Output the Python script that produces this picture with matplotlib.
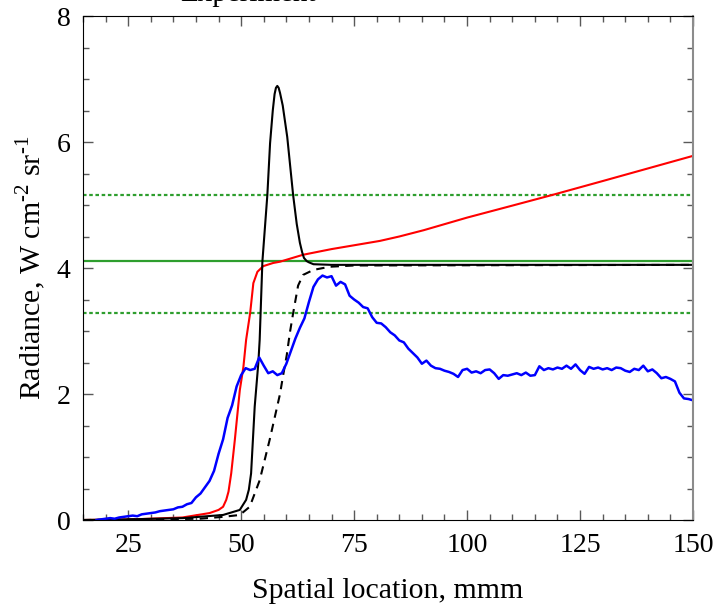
import matplotlib

matplotlib.use("Agg")
import matplotlib.pyplot as plt
from matplotlib.ticker import MultipleLocator

plt.rcParams["font.family"] = ["Liberation Serif", "DejaVu Serif"]
plt.rcParams["mathtext.fontset"] = "custom"
plt.rcParams["mathtext.rm"] = "Liberation Serif"

# experiment (blue)
exp_x = list(range(18, 151))
exp_y = [
    0.00, 0.01, 0.02, 0.03, 0.02, 0.04, 0.05, 0.06, 0.07, 0.06,
    0.09, 0.10, 0.11, 0.12, 0.14, 0.15, 0.16, 0.17, 0.20, 0.21,
    0.25, 0.27, 0.36, 0.42, 0.52, 0.62, 0.78, 1.05, 1.28, 1.62,
    1.82, 2.12, 2.30, 2.41, 2.38, 2.40, 2.58, 2.45, 2.33, 2.36,
    2.30, 2.33, 2.48, 2.68, 2.88, 3.05, 3.20, 3.46, 3.70, 3.82,
    3.88, 3.85, 3.87, 3.72, 3.78, 3.74, 3.56, 3.50, 3.45, 3.38,
    3.36, 3.22, 3.13, 3.12, 3.06, 2.98, 2.93, 2.85, 2.82, 2.72,
    2.65, 2.58, 2.48, 2.53, 2.45, 2.41, 2.40, 2.37, 2.35, 2.32,
    2.27, 2.38, 2.40, 2.34, 2.36, 2.33, 2.38, 2.39, 2.33, 2.24,
    2.30, 2.29, 2.31, 2.33, 2.30, 2.34, 2.29, 2.30, 2.44, 2.38,
    2.41, 2.39, 2.42, 2.40, 2.45, 2.40, 2.47, 2.38, 2.32, 2.43,
    2.40, 2.42, 2.39, 2.41, 2.38, 2.42, 2.41, 2.37, 2.35, 2.40,
    2.38, 2.45, 2.36, 2.39, 2.33, 2.25, 2.27, 2.24, 2.20, 2.02,
    1.93, 1.92, 1.90,
]

# model, red
red_x = [15, 26, 37, 43, 45, 46, 46.7, 47.2, 47.8, 48.6, 49.7, 50.5, 51.1, 52,
         52.7, 53.6, 54.9, 57.1, 58.6, 63.7, 70, 80.7, 85, 90.4, 100, 110, 119.4,
         130, 140, 150]
red_y = [0.0, 0.01, 0.04, 0.11, 0.16, 0.21, 0.32, 0.45, 0.74, 1.27, 2.06, 2.43, 2.86,
         3.29, 3.76, 3.94, 4.03, 4.08, 4.10, 4.21, 4.30, 4.43, 4.50, 4.60, 4.80, 4.99,
         5.17, 5.38, 5.58, 5.78]

# model, black solid
blk_x = [15, 25, 37.1, 46, 49.7, 51.1, 51.7, 52.2, 53.0, 53.8, 54.1, 54.7, 55.8,
         56.4, 57.0, 57.4, 57.7, 58.0, 58.3, 58.6, 59.2, 60.2, 61.5, 62.3, 63.0,
         63.5, 63.9, 64.5, 65, 66, 70, 150]
blk_y = [0.0, 0.01, 0.03, 0.08, 0.16, 0.32, 0.48, 0.74, 1.80, 2.49, 2.86, 4.10, 5.16,
         5.98, 6.50, 6.76, 6.86, 6.89, 6.86, 6.78, 6.58, 6.08, 5.16, 4.70, 4.40,
         4.25, 4.16, 4.11, 4.09, 4.06, 4.05, 4.05]

# model, black dashed
dsh_x = [15, 30, 40.8, 46, 49.7, 51.9, 54.1, 56.3, 58.6, 59.3, 60.1, 60.8, 61.5,
         62.6, 63.7, 66, 69.6, 75, 150]
dsh_y = [0.0, 0.01, 0.02, 0.05, 0.08, 0.21, 0.63, 1.27, 2.00, 2.30, 2.62, 2.98, 3.28,
         3.72, 3.89, 3.97, 4.02, 4.04, 4.05]

# mean and bounds (green)
band_mean = 4.11
band_lo = 3.29
band_hi = 5.16

fig = plt.figure(figsize=(7.16, 6.04), dpi=100)
ax = fig.add_axes([83 / 716, 84 / 604, 610 / 716, 504 / 604])

green = "#2e9e2e"
ax.axhline(band_mean, color=green, lw=1.6)
ax.axhline(band_hi, color=green, lw=1.6, ls=(0, (1.6, 1.2)))
ax.axhline(band_lo, color=green, lw=1.6, ls=(0, (1.6, 1.2)))
ax.plot(red_x, red_y, color="red", lw=1.5)
ax.plot(blk_x, blk_y, color="black", lw=1.5)
ax.plot(dsh_x, dsh_y, color="black", lw=1.5, ls=(0, (4, 3)))
ax.plot(exp_x, exp_y, color="blue", lw=1.8)

ax.set_xlim(15, 150)
ax.set_ylim(0, 8)
ax.xaxis.set_major_locator(MultipleLocator(25))
ax.xaxis.set_minor_locator(MultipleLocator(5))
ax.yaxis.set_major_locator(MultipleLocator(2))
ax.yaxis.set_minor_locator(MultipleLocator(0.5))
ax.tick_params(which="both", direction="in", top=True, right=True, color="0.35",
               labelsize=20)
ax.tick_params(which="major", length=7, width=1, pad=9)
ax.tick_params(which="minor", length=4, width=1)
ax.spines["right"].set_color("0.55")
ax.spines["right"].set_linewidth(1.5)

ax.set_xlabel("Spatial location, mmm", fontsize=21.5, labelpad=15)
ax.set_ylabel("Radiance, W cm$^{\\text{-2}}$ sr$^{\\text{-1}}$", fontsize=21.5, labelpad=6)

fig.text(248 / 716, 1 - 1 / 604, "Experiment", fontsize=21, ha="center", va="baseline")

fig.savefig("out.png", dpi=100)
